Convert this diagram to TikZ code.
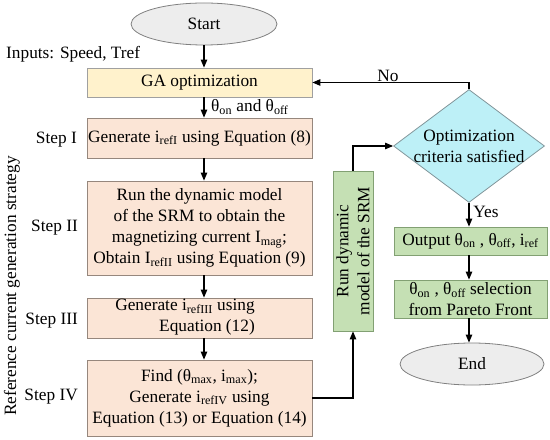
\documentclass[tikz,border=0pt]{standalone}
\usepackage{fontspec}
\setmainfont{Liberation Serif}
\usetikzlibrary{shapes.geometric,arrows.meta}
\definecolor{gafill}{RGB}{255,242,204}
\definecolor{gadraw}{RGB}{160,160,160}
\definecolor{stfill}{RGB}{251,229,214}
\definecolor{stdraw}{RGB}{150,135,125}
\definecolor{grfill}{RGB}{197,224,180}
\definecolor{grdraw}{RGB}{130,160,115}
\definecolor{dmfill}{RGB}{189,240,247}
\definecolor{dmdraw}{RGB}{130,150,155}
\definecolor{elfill}{RGB}{237,237,237}
\definecolor{eldraw}{RGB}{128,128,128}
\newcommand{\sbs}[1]{\textsubscript{#1}}
\tikzset{
  txt/.style={font=\fontsize{17.3bp}{21bp}\selectfont, inner sep=0pt},
  box/.style={txt, draw, line width=0.8bp, align=center, minimum width=225bp},
  stepbox/.style={box, fill=stfill, draw=stdraw},
  gabox/.style={box, fill=gafill, draw=gadraw},
  grbox/.style={txt, draw=grdraw, fill=grfill, line width=0.8bp, align=center},
  term/.style={txt, ellipse, draw=eldraw, fill=elfill, line width=0.8bp, minimum width=146bp, minimum height=42bp},
  dec/.style={diamond, draw=dmdraw, fill=dmfill, line width=0.8bp, inner sep=0pt, aspect=1.33, minimum width=151bp, minimum height=113bp},
  arr/.style={line width=1.1bp, -{Triangle[length=8bp,width=6.5bp]}},
  lbl/.style={txt}
}
\begin{document}
\begin{tikzpicture}[x=1bp,y=-1bp]
\useasboundingbox (0,0) rectangle (550,440);
% left column
\node[term] (start) at (204,24) {Start};
\node[lbl, anchor=west] (inputs) at (6,54) {Inputs: Speed, Tref};
\node[gabox, minimum height=29bp] (ga) at (199.5,82.5) {GA optimization};
\node[lbl, anchor=west] (theta) at (211,107) {θ\sbs{on} and θ\sbs{off}};
\node[stepbox, minimum height=40bp] (s1) at (199.5,138) {Generate i\sbs{refI} using Equation (8)};
\node[stepbox, minimum height=94bp] (s2) at (199.5,228) {Run the dynamic model\\of the SRM to obtain the\\magnetizing current I\sbs{mag};\\Obtain I\sbs{refII} using Equation (9)};
\node[stepbox, minimum height=40bp] (s3) at (199.5,318) {};
\node[txt, align=center] (s3t) at (196,317.5) {Generate i\sbs{refIII} using\hspace*{22bp}\\\hspace*{22bp}Equation (12)};
\node[stepbox, minimum height=76bp] (s4) at (199.5,398) {Find (θ\sbs{max}, i\sbs{max});\\Generate i\sbs{refIV} using\\Equation (13) or Equation (14)};
% step labels
\node[lbl, anchor=east] (l1) at (77,140) {Step I};
\node[lbl, anchor=east] (l2) at (78,228) {Step II};
\node[lbl, anchor=east] (l3) at (78,321) {Step III};
\node[lbl, anchor=east] (l4) at (78,397) {Step IV};
\node[lbl, rotate=90] (strat) at (12,286) {Reference current generation strategy};
% middle
\node[grbox, rotate=90, minimum width=160bp, minimum height=40bp] (g) at (353,251) {Run dynamic\\model of the SRM};
% right column
\node[dec] (d) at (469,146) {};
\node[txt, align=center] (dt) at (d.center) {Optimization\\criteria satisfied};
\node[grbox, minimum width=153bp, minimum height=28bp] (out) at (470.5,241) {Output θ\sbs{on} , θ\sbs{off}, i\sbs{ref}};
\node[grbox, minimum width=153bp, minimum height=38bp] (par) at (470.5,299) {θ\sbs{on} , θ\sbs{off} selection\\from Pareto Front};
\node[term, minimum width=144bp] (end) at (472,364) {End};
\node[lbl] (no) at (388,76) {No};
\node[lbl] (yes) at (486,212) {Yes};
% connectors
\draw[arr] (start.south) -- (start.south |- ga.north);
\draw[arr] (ga.south -| start.south) -- (s1.north -| start.south);
\draw[arr] (s1.south -| start.south) -- (s2.north -| start.south);
\draw[arr] (s2.south -| start.south) -- (s3.north -| start.south);
\draw[arr] (s3.south -| start.south) -- (s4.north -| start.south);
\draw[arr] (s4.east) -| (g.west);
\draw[arr] (g.east) |- (d.west);
\draw[arr] (d.north) |- (ga.east);
\draw[arr] (d.south) -- (d.south |- out.north);
\draw[arr] (out.south -| d.south) -- (par.north -| d.south);
\draw[arr] (par.south -| d.south) -- (end.north -| d.south);
\end{tikzpicture}
\end{document}
